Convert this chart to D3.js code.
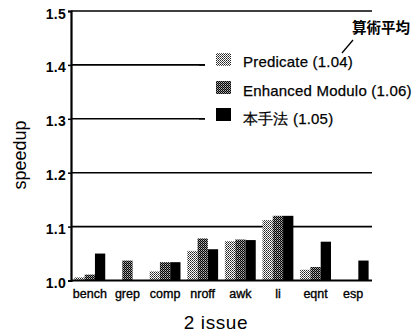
<!DOCTYPE html>
<html><head><meta charset="utf-8">
<script src="https://cdn.jsdelivr.net/npm/d3@7"></script>
<style>
html,body{margin:0;padding:0;background:#fff;}
text{font-family:"Liberation Sans",Arial,Helvetica,sans-serif;fill:#000;}
</style></head>
<body><svg id="c" width="415" height="332"></svg>
<script>
const categories = ["bench","grep","comp","nroff","awk","li","eqnt","esp"];
const seriesNames = ["Predicate (1.04)","Enhanced Modulo (1.06)","本手法 (1.05)"];
const predicate = [1.006, 1.0, 1.017, 1.055, 1.073, 1.112, 1.020, 1.0];
const enhanced  = [1.011, 1.037, 1.034, 1.078, 1.076, 1.120, 1.025, 1.0];
const ours      = [1.050, 1.0, 1.034, 1.058, 1.075, 1.120, 1.072, 1.037];
const yTicks = [1.0, 1.1, 1.2, 1.3, 1.4, 1.5];
const series = [predicate, enhanced, ours];

const svg = d3.select("#c");
const defs = svg.append("defs");
const p1 = defs.append("pattern").attr("id","pPred").attr("width",2).attr("height",2).attr("patternUnits","userSpaceOnUse");
p1.append("rect").attr("width",2).attr("height",2).attr("fill","#fff");
p1.append("rect").attr("x",0).attr("y",0).attr("width",1).attr("height",1).attr("fill","#222");
p1.append("rect").attr("x",1).attr("y",1).attr("width",1).attr("height",1).attr("fill","#555");
const p2 = defs.append("pattern").attr("id","pEnh").attr("width",2).attr("height",2).attr("patternUnits","userSpaceOnUse");
p2.append("rect").attr("width",2).attr("height",2).attr("fill","#000");
p2.append("rect").attr("x",1).attr("y",0).attr("width",1).attr("height",1).attr("fill","#bbb");
p2.append("rect").attr("x",0).attr("y",1).attr("width",1).attr("height",1).attr("fill","#777");
const fills = ["url(#pPred)","url(#pEnh)","#000"];

const x0 = 71, x1 = 372, yTop = 11, yBot = 280.5;
const x = d3.scaleBand().domain(categories).range([x0,x1]).paddingInner(0.18).paddingOuter(0.09);
const xs = d3.scaleBand().domain(d3.range(series.length)).range([0,x.bandwidth()]);
const y = d3.scaleLinear().domain([1.0,1.5]).range([yBot,yTop]);

const gridEnd = {1.1:x1, 1.2:x1, 1.3:205, 1.4:205, 1.5:x1};
svg.append("g").selectAll("line").data(yTicks.filter(t=>t>1.0)).join("line")
  .attr("x1",x0).attr("x2",t=>gridEnd[t]).attr("y1",t=>y(t)).attr("y2",t=>y(t))
  .attr("stroke","#000").attr("stroke-width",1.6);

const g = svg.append("g");
categories.forEach((c,i)=>{
  series.forEach((s,j)=>{
    g.append("rect").attr("x",x(c)+xs(j)).attr("width",xs.bandwidth())
      .attr("y",y(s[i])).attr("height",y(1.0)-y(s[i])).attr("fill",fills[j]);
  });
});

const yAxis = d3.axisLeft(y).tickValues(yTicks).tickFormat(d3.format(".1f")).tickSize(3).tickPadding(2);
const ya = svg.append("g").attr("transform",`translate(${x0},0)`).call(yAxis);
ya.select(".domain").attr("stroke-width",2.2);
ya.selectAll(".tick line").attr("stroke-width",1.5);
ya.selectAll("text").style("font-size","14px").style("font-family","Liberation Sans, Arial, sans-serif")
  .attr("font-weight","bold").attr("dy","0.5em").attr("letter-spacing","0.3");

const xAxis = d3.axisBottom(x).tickSize(0).tickPadding(9);
const xa = svg.append("g").attr("transform",`translate(0,${yBot})`).call(xAxis);
xa.select(".domain").attr("stroke-width",2.2).attr("d",`M${x0},0H${x1}`);
xa.selectAll("text").style("font-size","12.5px").style("font-family","Liberation Sans, Arial, sans-serif")
  .attr("stroke","#000").attr("stroke-width",0.35);

svg.append("text").attr("x",216).attr("y",329).attr("text-anchor","middle").style("font-size","19px")
  .attr("letter-spacing","0.6").text("2 issue");
svg.append("text").attr("transform","translate(26,155) rotate(-90)").attr("text-anchor","middle").style("font-size","18px").text("speedup");

const lg = svg.append("g");
const swY = [53, 81, 108], txY = [67, 96, 124];
seriesNames.forEach((n,j)=>{
  lg.append("rect").attr("x",216).attr("y",swY[j]).attr("width",15).attr("height",13).attr("fill",fills[j]);
  lg.append("text").attr("x",243).attr("y",txY[j]).style("font-size","15px").attr("letter-spacing","0.2")
    .attr("stroke","#000").attr("stroke-width",0.25).text(n);
});
[1.4,1.3].forEach(t=>{
  lg.append("line").attr("x1",199).attr("x2",205).attr("y1",y(t)).attr("y2",y(t)).attr("stroke","#000").attr("stroke-width",1.5);
});

svg.append("text").attr("x",352).attr("y",33).style("font-size","14.5px").attr("font-weight","bold")
  .style("font-family","Noto Sans CJK JP, sans-serif").text("算術平均");
svg.append("line").attr("x1",353).attr("y1",40).attr("x2",342).attr("y2",53).attr("stroke","#000").attr("stroke-width",1.3);
</script></body></html>
